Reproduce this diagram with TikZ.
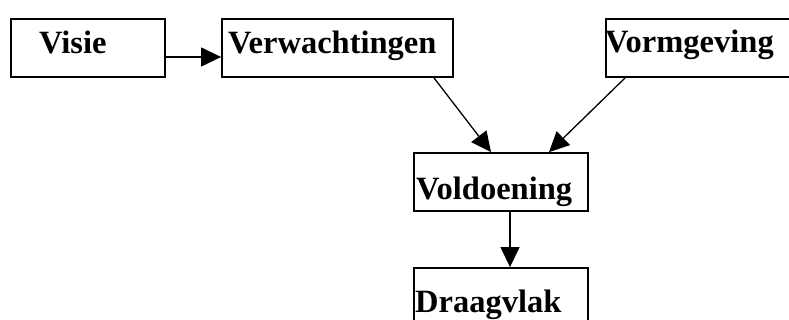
\documentclass[tikz,border=0pt]{standalone}
\usepackage{fontspec}
\setmainfont{Liberation Serif}
\usetikzlibrary{arrows.meta}
\begin{document}
\begin{tikzpicture}[x=1pt,y=-1pt,
  box/.style={draw=black,line width=1.8pt,fill=white,inner sep=0pt},
  lbl/.style={anchor=base west,inner sep=0pt,font=\fontsize{32.5}{36}\selectfont\bfseries},
  arr/.style={line width=1.3pt,-{Triangle[length=20pt,width=19pt]}}]
\useasboundingbox (0,0) rectangle (789,320);
\clip (0,0) rectangle (789,320);
\fill[white] (0,0) rectangle (789,320);
% boxes
\node[box,minimum width=154pt,minimum height=58pt] (visie) at (88,48) {};
\node[box,minimum width=231pt,minimum height=58pt] (verw) at (337.5,48) {};
\node[box,minimum width=194pt,minimum height=58pt] (vorm) at (703,48) {};
\node[box,minimum width=174pt,minimum height=58pt] (vold) at (501,182) {};
\node[box,minimum width=174pt,minimum height=58pt] (draag) at (501,297) {};
% labels
\node[lbl] (tvisie) at (39,54) {Visie};
\node[lbl] (tverw) at (228,54) {Verwachtingen};
\node[lbl] (tvorm) at (605,53) {Vormgeving};
\node[lbl] (tvold) at (416,200) {Voldoening};
\node[lbl] (tdraag) at (415,312) {Draagvlak};
% connectors
\draw[arr] ([yshift=-9pt]visie.east) -- ([yshift=-9pt]verw.west);
\draw[arr] ([xshift=96.5pt]verw.south) -- ([xshift=-10pt]vold.north);
\draw[arr] ([xshift=20pt]vorm.south west) -- ([xshift=48pt]vold.north);
\draw[arr] ([xshift=9pt]vold.south) -- ([xshift=9pt]draag.north);
\end{tikzpicture}
\end{document}
